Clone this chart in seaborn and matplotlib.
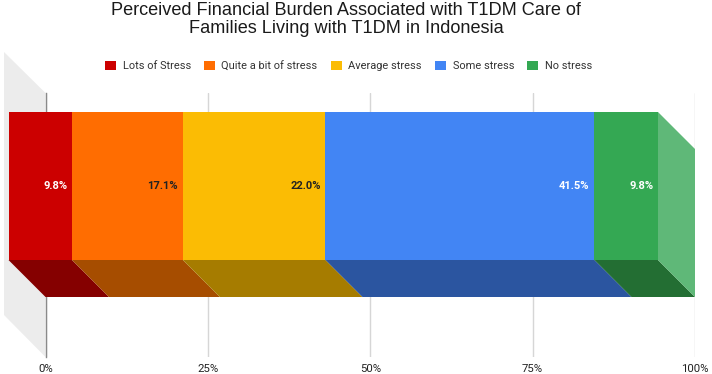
import numpy as np
import matplotlib
matplotlib.use("Agg")
import matplotlib.pyplot as plt
import seaborn as sns

categories = ["Lots of Stress", "Quite a bit of stress", "Average stress", "Some stress", "No stress"]
values = [9.8, 17.1, 22.0, 41.5, 9.8]
value_labels = ["9.8%", "17.1%", "22.0%", "41.5%", "9.8%"]
ticks = [0, 25, 50, 75, 100]
tick_labels = ["0%", "25%", "50%", "75%", "100%"]
group = ["Indonesia"]

front_colors = ["#cc0000", "#ff6d01", "#fbbc04", "#4285f4", "#34a853"]
floor_colors = ["#850000", "#a64d00", "#a67c00", "#2b55a0", "#236e33"]
label_colors = ["white", "#222222", "#222222", "white", "white"]
side_color = "#5fb878"
wall_color = "#ececec"

W, H = 712, 374
sns.set_theme(style="white")
plt.rcParams["font.family"] = ["Liberation Sans", "DejaVu Sans"]

fig = plt.figure(figsize=(W / 100, H / 100), dpi=100, facecolor="white")
x0, x1, ytop, ybot = 45.5, 695, 93, 357
ax = fig.add_axes([x0 / W, 1 - ybot / H, (x1 - x0) / W, (ybot - ytop) / H])

px_per_pct = (x1 - x0) / 100
bar_px = 148
dx = 37 / px_per_pct            # 3-D depth in percent units
dy = 37 / bar_px                # 3-D depth in bar-height units
wall_dx = 41.5 / px_per_pct
yc = 186
lim_bottom = (ybot - yc) / bar_px
lim_top = (ytop - yc) / bar_px

lefts = np.concatenate([[0], np.cumsum(values)[:-1]])
total = float(np.sum(values))
scale = 100 / total

# back wall
ax.fill([-wall_dx, 0, 0, -wall_dx],
        [lim_top - 41 / bar_px, lim_top, lim_bottom, lim_bottom - 42 / bar_px],
        color=wall_color, lw=0, clip_on=False, zorder=1)

ax.set_axisbelow(True)
ax.grid(True, axis="x", color="#d6d6d6", lw=1)

# floor faces and right side face
for l, v, c in zip(lefts, values, floor_colors):
    a, b = l * scale, (l + v) * scale
    ax.fill([a - dx, b - dx, b, a], [0.5, 0.5, 0.5 + dy, 0.5 + dy],
            color=c, lw=0, clip_on=False, zorder=2)
ax.fill([100 - dx, 100, 100, 100 - dx],
        [-0.5, -0.5 + dy, 0.5 + dy, 0.5],
        color=side_color, lw=0, clip_on=False, zorder=2)

# front faces
for l, v, c, name in zip(lefts, values, front_colors, categories):
    sns.barplot(x=[v * scale], y=group, left=l * scale - dx, color=c, saturation=1,
                width=1, orient="h", errorbar=None, label=name, ax=ax,
                clip_on=False, linewidth=0, zorder=3)
if ax.get_legend() is not None:
    ax.get_legend().remove()

for cont, txt, col in zip(ax.containers, value_labels, label_colors):
    anns = ax.bar_label(cont, labels=[txt], label_type="edge", padding=-3.5,
                        color=col, fontsize=8, family=["Roboto", "DejaVu Sans"],
                        fontweight="bold", zorder=4)
    for a in anns:
        a.set_ha("right")

ax.set_xlim(0, 100)
ax.set_ylim(lim_bottom, lim_top)
ax.set_yticks([])
ax.set_xlabel("")
ax.set_ylabel("")
ax.set_xticks(ticks)
ax.set_xticklabels(tick_labels, fontsize=8.2, color="#222222", family=["Roboto", "DejaVu Sans"])
ax.tick_params(axis="x", length=0, pad=5, bottom=False)
for s in ["top", "right", "bottom"]:
    ax.spines[s].set_visible(False)
ax.spines["left"].set_color("#8a8a8a")
ax.spines["left"].set_linewidth(1)
ax.spines["left"].set_zorder(1.5)

handles = list(ax.containers)
leg = fig.legend(handles, categories, loc="center", bbox_to_anchor=(348.5 / W, 1 - 66 / H),
                 ncol=5, frameon=False, handlelength=1.0, handleheight=1.0,
                 handletextpad=0.6, columnspacing=1.2, labelcolor="#333333",
                 prop={"family": ["Roboto", "DejaVu Sans"], "size": 7.9})

fig.text(346 / W, 1 - 19.5 / H,
         "Perceived Financial Burden Associated with T1DM Care of\nFamilies Living with T1DM in Indonesia",
         ha="center", va="center", fontsize=13.1, color="#1a1a1a", linespacing=1.12)

fig.savefig("out.png", dpi=100)
